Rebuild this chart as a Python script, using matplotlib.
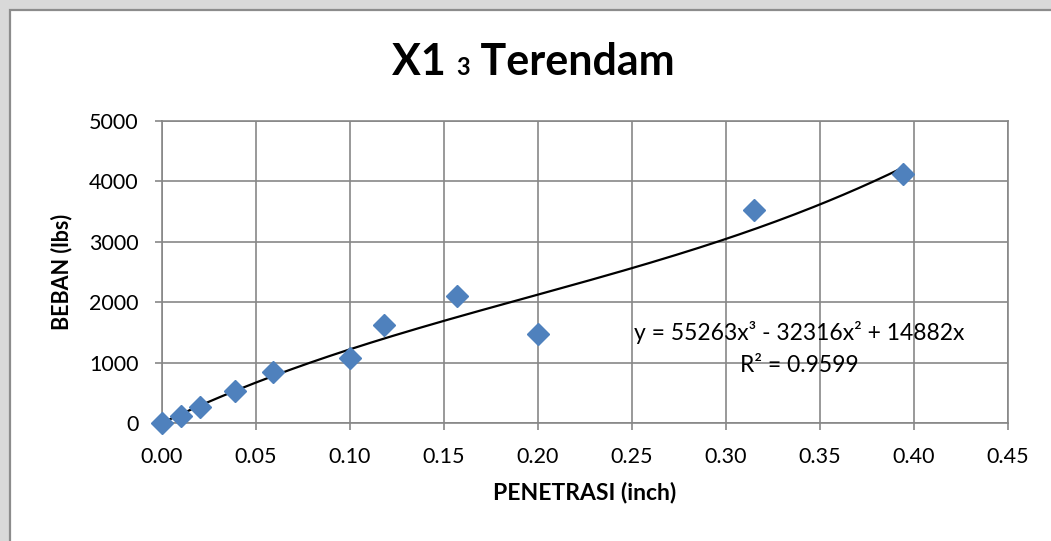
import matplotlib
matplotlib.use("Agg")
import matplotlib.pyplot as plt
import numpy as np
from matplotlib.patches import Rectangle
from matplotlib.offsetbox import TextArea, HPacker, AnnotationBbox

# Data
penetrasi = [0.0, 0.01, 0.02, 0.039, 0.059, 0.1, 0.118, 0.157, 0.2, 0.315, 0.394]
beban = [0, 120, 265, 535, 850, 1075, 1620, 2105, 1480, 3530, 4120]
trend_coef = [55263, -32316, 14882, 0]  # cubic trendline coefficients
eq_text = "y = 55263x³ - 32316x² + 14882x"
r2_text = "R² = 0.9599"
xticks = [0.00, 0.05, 0.10, 0.15, 0.20, 0.25, 0.30, 0.35, 0.40, 0.45]
yticks = [0, 1000, 2000, 3000, 4000, 5000]

FONT = "Lato"
plt.rcParams['font.family'] = [FONT, 'DejaVu Sans']

W, H = 1051, 541
fig = plt.figure(figsize=(W / 100, H / 100), dpi=100)
fig.patch.set_facecolor("#d9d9d9")
# white chart box
fig.add_artist(Rectangle((10 / W, -0.05), 1.2, 1 - 10 / H + 0.05, transform=fig.transFigure,
                         facecolor="white", edgecolor="#8c8c8c", linewidth=1.6, zorder=0))

ax = fig.add_axes([162 / W, 1 - 423 / H, (1008 - 162) / W, (423 - 121) / H])
ax.set_facecolor("white")
grid_c = "#878787"
ax.set_xlim(0, 0.45)
ax.set_ylim(0, 5000)
ax.set_xticks(xticks)
ax.set_xticklabels([f"{v:.2f}" for v in xticks])
ax.set_yticks(yticks)
ax.set_yticklabels([str(v) for v in yticks])
ax.grid(True, color=grid_c, linewidth=1.2, zorder=1)
ax.set_axisbelow(True)
for s in ax.spines.values():
    s.set_color(grid_c)
    s.set_linewidth(1.2)
ax.tick_params(direction="out", length=5, width=1.2, color=grid_c, labelsize=15.5, pad=12)

xs = np.linspace(0, max(penetrasi), 200)
ax.plot(xs, np.polyval(trend_coef, xs), color="black", linewidth=1.6, zorder=3)
ax.plot(penetrasi, beban, linestyle="none", marker="D", markersize=11,
        color="#4f81bd", markeredgecolor="#4f81bd", zorder=4, clip_on=False)

ax.set_xlabel("PENETRASI (inch)", fontsize=16.5, fontweight="bold", labelpad=11)
ax.set_ylabel("BEBAN (lbs)", fontsize=15.5, fontweight="bold", labelpad=12)

fig.text(799 / W, 1 - 332 / H, eq_text, ha="center", va="center", fontsize=16.5)
fig.text(799 / W, 1 - 366 / H, r2_text, ha="center", va="center", fontsize=16.5)

# Title with small "3"
big = dict(fontsize=31, fontweight="bold", color="black")
small = dict(fontsize=17, fontweight="bold", color="black")
box = HPacker(children=[TextArea("X1 ", textprops=big), TextArea("3", textprops=small),
                        TextArea(" Terendam", textprops=big)], align="baseline", pad=0, sep=0)
ab = AnnotationBbox(box, (533 / W, 1 - 62 / H), xycoords="figure fraction", frameon=False,
                    box_alignment=(0.5, 0.5))
fig.add_artist(ab)

fig.savefig("out.png", dpi=100, facecolor=fig.get_facecolor())
